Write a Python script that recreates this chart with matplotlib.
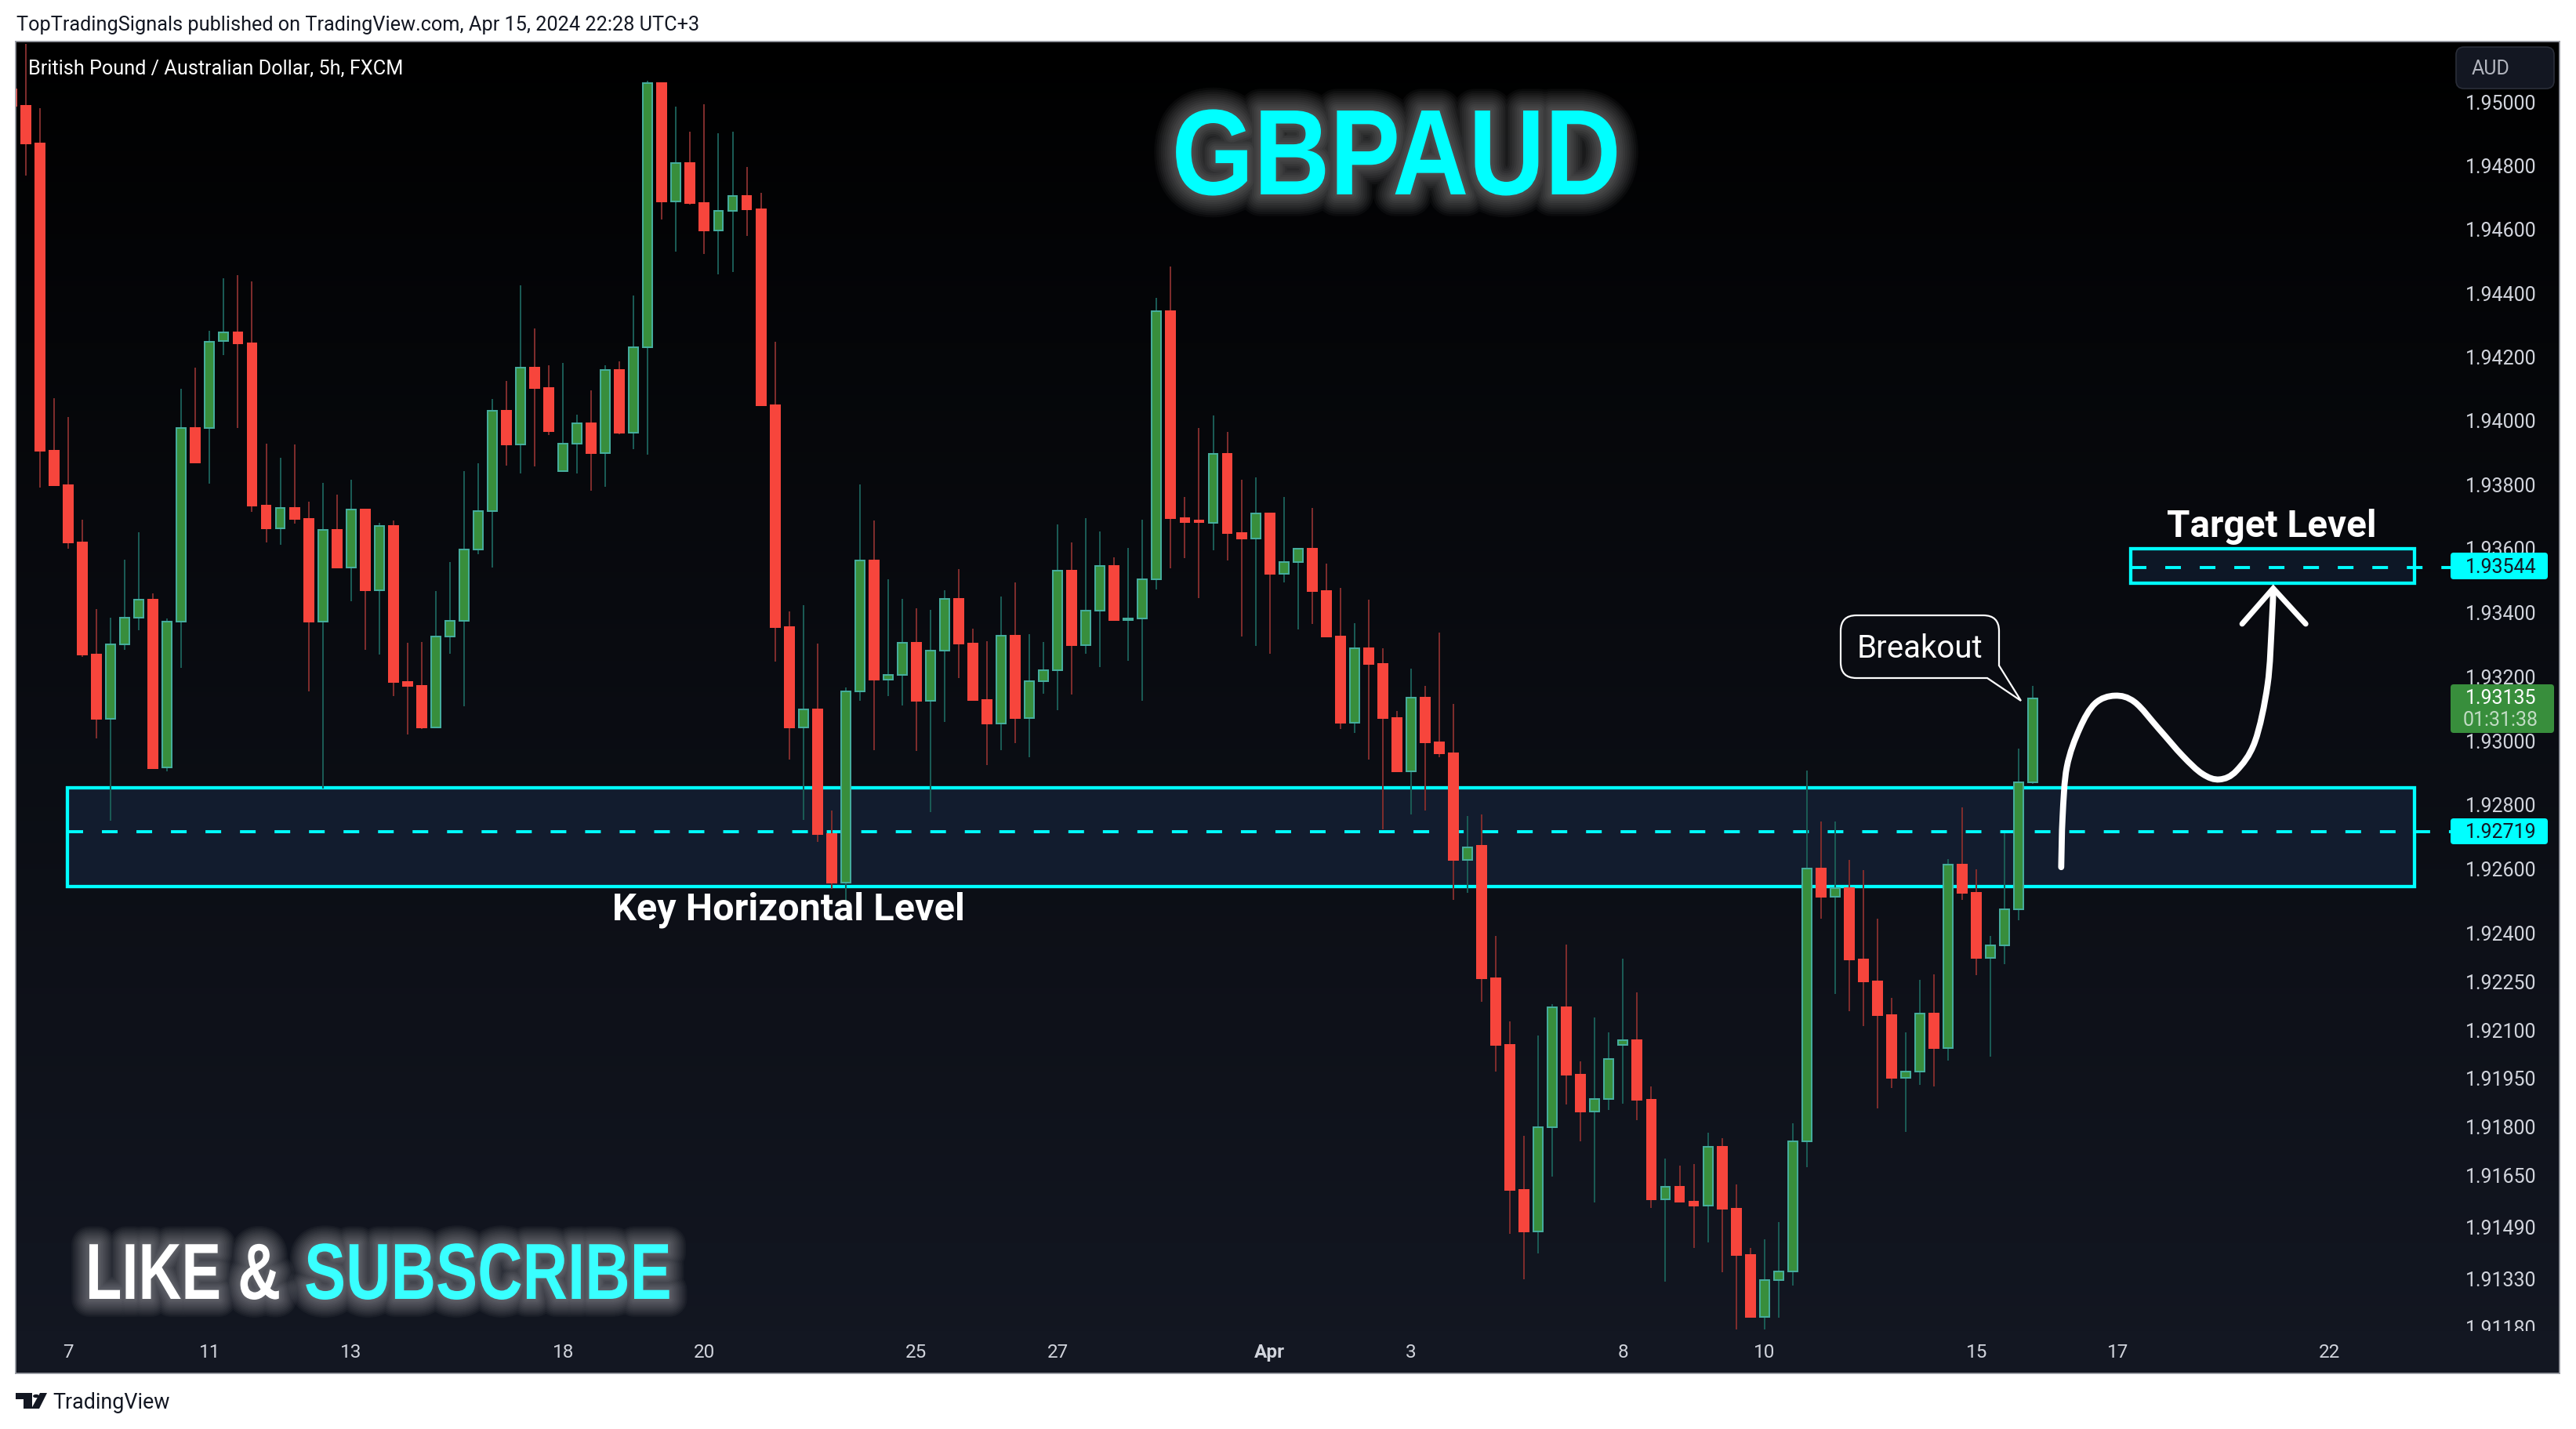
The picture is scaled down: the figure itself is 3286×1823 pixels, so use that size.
import numpy as np
import matplotlib
matplotlib.use("Agg")
import matplotlib.pyplot as plt
import matplotlib.patheffects as pe
from matplotlib.patches import Rectangle, PathPatch, Polygon, Circle, FancyBboxPatch
from matplotlib.path import Path
from matplotlib.transforms import Affine2D, IdentityTransform

# ---- data (prices in 1e-5 units, first bar index -1) ----
FIRST_BAR = -1
DIRECTION = ("RRRRRRRGGG" "RGGRGGRRRG" "RRGRGRGRRR" "GGGGGRGRRG" "GRGRGGRGRR" "GGRRRRGRRG" "GRGGRGGRRR"
             "GRGGGRGGRG" "GGRRRGRRGR" "GGRRRGRRRG" "RRRGRRRRGG" "RRGGGRRGRR" "GRRRGGGGRG" "RRRRGGRGRR" "GGGG")
BODY_TOP = [195043,194991,194873,193909,193801,193621,193272,193303,193387,193443,
193443,193373,193980,193980,194250,194280,194280,194245,193737,193730,
193730,193694,193660,193660,193724,193724,193674,193674,193186,193173,
193327,193377,193600,193719,194033,194033,194170,194170,194106,193930,
193994,193994,194162,194162,194233,195063,195063,194812,194812,194685,
194661,194709,194709,194666,194052,193358,193100,193100,192712,193157,
193564,193564,193209,193308,193308,193283,193445,193445,193305,193129,
193329,193329,193189,193222,193534,193534,193408,193547,193547,193384,
193507,194346,194346,193698,193691,193898,193898,193652,193713,193713,
193561,193603,193603,193470,193328,193292,193292,193243,193074,193136,
193136,192997,192963,192670,192675,192263,192058,191608,191803,192173,
192173,191964,191889,192013,192071,192071,191887,191618,191618,191571,
191742,191742,191550,191407,191329,191356,191758,192605,192605,192544,
192544,192322,192254,192150,191975,192154,192154,192618,192618,192530,
192365,192477,192874,193135]
BODY_BOTTOM = [194991,194873,193909,193801,193621,193272,193070,193070,193303,193387,
192917,192919,193373,193872,193980,194252,194245,193737,193666,193666,
193694,193373,193373,193542,193542,193473,193473,193186,193173,193044,
193044,193327,193377,193600,193719,193927,193927,194106,193971,193845,
193930,193900,193900,193966,193966,194233,194690,194690,194685,194599,
194599,194661,194666,194052,193358,193044,193044,192712,192562,192562,
193157,193192,193192,193209,193126,193126,193283,193305,193129,193057,
193057,193074,193074,193189,193222,193301,193301,193408,193379,193379,
193384,193507,193698,193686,193686,193682,193652,193633,193633,193524,
193524,193561,193470,193328,193059,193059,193243,193074,192907,192907,
192997,192963,192632,192632,192263,192058,191608,191480,191480,191803,
191964,191851,191851,191889,192058,191887,191579,191579,191571,191559,
191559,191550,191407,191215,191215,191329,191356,191758,192518,192518,
192322,192254,192150,191955,191955,191975,192047,192047,192530,192326,
192326,192365,192477,192874]
HIGH = [195060,195187,194983,194074,194013,193693,193413,193387,193567,193654,
193462,193384,194103,194169,194285,194450,194459,194439,193930,193887,
193927,193748,193807,193770,193817,193724,193683,193691,193307,193311,
193470,193561,193844,193869,194070,194126,194428,194291,194176,194183,
194021,194098,194176,194189,194396,195071,195065,194988,194910,194996,
194905,194910,194798,194718,194250,193405,193425,193305,192784,193168,
193804,193691,193506,193444,193417,193412,193473,193538,193353,193314,
193452,193496,193336,193311,193678,193621,193698,193655,193576,193604,
193692,194388,194487,193764,193980,194020,193967,193818,193825,193713,
193764,193603,193729,193555,193479,193370,193442,193291,193095,193227,
193174,193340,193117,192767,192774,192396,192131,191774,192085,192183,
192369,192005,192141,192097,192325,192221,191927,191704,191684,191687,
191784,191767,191624,191428,191454,191508,191813,192910,192752,192752,
192631,192599,192448,192204,192096,192258,192275,192635,192795,192603,
192394,192714,192978,193174]
LOW = [194980,194773,193793,193801,193602,193264,193010,192754,193285,193347,
192917,192908,193230,193872,193806,194208,193980,193716,193621,193614,
193680,193156,192853,193542,193438,193286,193272,193142,193022,193038,
193044,193275,193109,193586,193542,193862,193837,193859,193958,193845,
193837,193784,193796,193961,193913,193897,194635,194534,194680,194525,
194461,194470,194581,194052,193250,192944,192757,192688,192541,192493,
193126,192973,193143,193113,192971,192781,193062,193199,193129,192927,
192973,192996,192952,193148,193099,193146,193273,193232,193379,193251,
193126,193475,193541,193573,193448,193596,193564,193328,193298,193275,
193497,193350,193367,193328,193038,193026,192944,192726,192907,192774,
192784,192952,192507,192529,192190,191974,191471,191332,191412,191650,
191872,191759,191570,191855,191875,191824,191553,191324,191570,191429,
191445,191352,191177,191215,191177,191213,191312,191679,192448,192214,
192162,192116,191860,191924,191788,191933,191929,192009,192506,192273,
192021,192308,192443,192869]

PRICE_TICKS = [1.95, 1.948, 1.946, 1.944, 1.942, 1.94, 1.938, 1.936, 1.934, 1.932, 1.93,
               1.928, 1.926, 1.924, 1.9225, 1.921, 1.9195, 1.918, 1.9165, 1.9149, 1.9133, 1.9118]
TIME_TICKS = [3, 13, 23, 38, 48, 63, 73, 88, 98, 113, 123, 138, 148, 163]
TIME_LABELS = ["7", "11", "13", "18", "20", "25", "27", "Apr", "3", "8", "10", "15", "17", "22"]

KEY_ZONE = (1.92549, 1.92855)
KEY_LEVEL = 1.92719
KEY_ZONE_BARS = (2.95, 169.0)
TARGET_ZONE = (1.93493, 1.93601)
TARGET_LEVEL = 1.93544
TARGET_ZONE_BARS = (148.9, 169.0)
LEVEL_LINE_END = 171.6

ARROW_BARS = [144.0, 144.1, 144.4, 145.3, 146.4, 147.8, 149.2, 150.9, 152.6, 154.0, 155.2, 156.4, 157.7, 158.6, 158.9, 159.0]
ARROW_PRICES = [1.92609, 1.92767, 1.92921, 1.93040, 1.93119, 1.93143, 1.93123, 1.93040, 1.92955, 1.92899,
                1.92882, 1.92909, 1.92999, 1.93177, 1.93367, 1.93473]
ARROW_HEAD_BARS = [156.8, 159.0, 161.3]
ARROW_HEAD_PRICES = [1.93367, 1.93478, 1.93367]

# ---- layout / style ----
W, H = 3286, 1824
plt.rcParams["font.family"] = ["Roboto", "DejaVu Sans"]
plt.rcParams["lines.scale_dashes"] = False
CYAN = "#00ffff"
GRID_TEXT = "#d1d4dc"
UP_BODY, UP_EDGE, UP_WICK = "#388e3c", "#45ac9c", "#1a5a54"
DN_BODY, DN_EDGE, DN_WICK = "#f7453c", "#f7453c", "#7d2c2c"
HEAVY = ["Liberation Sans", "DejaVu Sans"]

def X(x): return x / W
def Y(y): return 1 - y / H

fig = plt.figure(figsize=(W / 100, H / 100), dpi=100, facecolor="white")
L, R, T, B = 20, 3265, 54, 1753
rect = [X(L), Y(B), (R - L) / W, (B - T) / H]

bg = fig.add_axes(rect, zorder=0)
grad = np.linspace(0, 1, 256)[:, None, None] ** 0.9 * np.array([[[0x13, 0x17, 0x22]]]) / 255
bg.imshow(grad, aspect="auto", extent=(0, 1, 0, 1), origin="upper")
bg.axis("off")

ax = fig.add_axes(rect, zorder=1)
ax.patch.set_alpha(0)
ax.set_yscale("log")
SPACING, X0 = 18.03, 33
ax.set_xlim((L - X0) / SPACING, (R - X0) / SPACING)
ax.set_ylim(1.91041, 1.95194)

n = len(DIRECTION)
assert all(len(a) == n for a in (BODY_TOP, BODY_BOTTOM, HIGH, LOW)), [n, len(BODY_TOP), len(BODY_BOTTOM), len(HIGH), len(LOW)]
idx = np.arange(n) + FIRST_BAR
top, bot = np.array(BODY_TOP) / 1e5, np.array(BODY_BOTTOM) / 1e5
hi, lo = np.array(HIGH) / 1e5, np.array(LOW) / 1e5
up = np.array([c == "G" for c in DIRECTION])

# zones (below the candles)
for (y0, y1), (b0, b1), fc in [(KEY_ZONE, KEY_ZONE_BARS, "#121c2e"), (TARGET_ZONE, TARGET_ZONE_BARS, "#0d1726")]:
    ax.add_patch(Rectangle((b0, y0), b1 - b0, y1 - y0, facecolor=fc, edgecolor=CYAN, lw=3.1, zorder=1.2))
ax.plot([KEY_ZONE_BARS[0], LEVEL_LINE_END], [KEY_LEVEL] * 2, color=CYAN, lw=2.8,
        linestyle=(0, (14.4, 17.3)), dash_capstyle="butt", zorder=1.3)
ax.plot([TARGET_ZONE_BARS[0], LEVEL_LINE_END], [TARGET_LEVEL] * 2, color=CYAN, lw=2.8,
        linestyle=(0, (14.4, 17.3)), dash_capstyle="butt", zorder=1.3)

# candles
ax.vlines(idx[up], lo[up], hi[up], color=UP_WICK, lw=1.45, zorder=2)
ax.vlines(idx[~up], lo[~up], hi[~up], color=DN_WICK, lw=1.45, zorder=2)
ax.bar(idx[up], (top - bot)[up], bottom=bot[up], width=0.66, color=UP_BODY, edgecolor=UP_EDGE, lw=1.45, zorder=2.2)
ax.bar(idx[~up], (top - bot)[~up], bottom=bot[~up], width=0.66, color=DN_BODY, edgecolor=DN_EDGE, lw=1.45, zorder=2.2)

# axes
ax.set_yticks(PRICE_TICKS, [f"{p:.5f}" for p in PRICE_TICKS])
ax.minorticks_off()
ax.yaxis.tick_right()
ax.tick_params(axis="y", length=0, pad=-86.5, labelsize=18, labelcolor=GRID_TEXT)
for tick in ax.yaxis.get_major_ticks():
    tick.label2.set_transform(tick.label2.get_transform() + Affine2D().translate(0, 2))
ax.set_xticks(TIME_TICKS, TIME_LABELS)
ax.tick_params(axis="x", length=0, pad=-28, labelsize=17.5, labelcolor=GRID_TEXT)
for lab in ax.get_xticklabels():
    if lab.get_text() == "Apr":
        lab.set_fontweight("bold")
ax.yaxis.set_zorder(2.6)
ax.xaxis.set_zorder(6)
for s in ax.spines.values():
    s.set_color("#9598a1")
    s.set_linewidth(1.2)
    s.set_zorder(7)

# time axis strip hides the cut tick at the bottom
ax.add_patch(Rectangle((0, 0), 1, (B - 1699) / (B - T), transform=ax.transAxes, facecolor="#131722", edgecolor="none", zorder=3))

# arrow
def smooth_path(xs, ys):
    disp = ax.transData.transform(np.column_stack([xs, ys]))
    verts, codes = [disp[0]], [Path.MOVETO]
    for i in range(len(disp) - 1):
        p0 = disp[max(i - 1, 0)]; p1 = disp[i]; p2 = disp[i + 1]; p3 = disp[min(i + 2, len(disp) - 1)]
        c1 = p1 + (p2 - p0) / 6; c2 = p2 - (p3 - p1) / 6
        verts += [c1, c2, p2]; codes += [Path.CURVE4] * 3
    return Path(np.array(verts), codes)

ax.add_patch(PathPatch(smooth_path(ARROW_BARS, ARROW_PRICES), transform=IdentityTransform(), facecolor="none", edgecolor="white",
                       lw=5.6, capstyle="round", joinstyle="round", zorder=4, clip_on=False))
ax.plot(ARROW_HEAD_BARS, ARROW_HEAD_PRICES, color="white", lw=5.0, solid_capstyle="round", solid_joinstyle="miter", zorder=4)

# text helpers
def ftext(x, y, s, **kw):
    kw.setdefault("zorder", 5)
    return ax.text(X(x), Y(y), s, transform=fig.transFigure, clip_on=False, **kw)

class NarrowGlow(pe.AbstractPathEffect):
    """Narrow a text horizontally about x_px, with a soft white halo behind it."""
    def __init__(self, sx, x_px, widths, alpha):
        super().__init__()
        self.sx, self.x_px, self.widths, self.alpha = sx, x_px, widths, alpha
    def draw_path(self, renderer, gc, tpath, affine, rgbFace=None):
        aff = affine + Affine2D().translate(-self.x_px, 0).scale(self.sx, 1).translate(self.x_px, 0)
        for w in self.widths:
            g = renderer.new_gc()
            g.copy_properties(gc)
            g.set_foreground("white")
            g.set_linewidth(w)
            g.set_alpha(self.alpha)
            g.set_joinstyle("round")
            renderer.draw_path(g, tpath, aff, None)
            g.restore()
        renderer.draw_path(gc, tpath, aff, rgbFace)

TITLE_GLOW = range(40, 0, -4)
SMALL_GLOW = range(33, 0, -3)
ftext(1781, 249, "GBPAUD", family=HEAVY, fontweight="bold", fontsize=112, color=CYAN, ha="center", va="baseline",
      path_effects=[NarrowGlow(0.865, 1781, TITLE_GLOW, 0.036)])
ftext(358, 1658, "LIKE &", family=HEAVY, fontweight="bold", fontsize=73, color="white", ha="right", va="baseline",
      path_effects=[NarrowGlow(0.75, 358, SMALL_GLOW, 0.036)])
ftext(388, 1658, "SUBSCRIBE", family=HEAVY, fontweight="bold", fontsize=73, color="#39ffff", ha="left", va="baseline",
      path_effects=[NarrowGlow(0.785, 388, SMALL_GLOW, 0.036)])

ftext(36, 87, "British Pound / Australian Dollar, 5h, FXCM", fontsize=18.2, color="white", ha="left", va="center")
ftext(21, 32, "TopTradingSignals published on TradingView.com, Apr 15, 2024 22:28 UTC+3", fontsize=18.2, color="#131722", ha="left", va="center")
ftext(67, 1790, "TradingView", fontsize=19.4, color="#131722", ha="left", va="center")
ftext(2898, 685, "Target Level", fontweight="bold", fontsize=34.3, color="white", ha="center", va="baseline")
ftext(1006, 1174, "Key Horizontal Level", fontweight="bold", fontsize=35, color="white", ha="center", va="baseline")

# callout
def px(pts):
    return np.array([[X(a), Y(b)] for a, b in pts])

r = 20
x0, x1, y0, y1 = 2348, 2550, 786, 866
verts = [(x0 + r, y0), (x1 - r, y0), (x1, y0), (x1, y0 + r), (x1, 850), (2578, 895), (2535, y1), (x0 + r, y1),
         (x0, y1), (x0, y1 - r), (x0, y0 + r), (x0, y0), (x0 + r, y0), (x0 + r, y0)]
codes = [Path.MOVETO, Path.LINETO, Path.CURVE3, Path.CURVE3, Path.LINETO, Path.LINETO, Path.LINETO, Path.LINETO,
         Path.CURVE3, Path.CURVE3, Path.LINETO, Path.CURVE3, Path.CURVE3, Path.CLOSEPOLY]
ax.add_patch(PathPatch(Path(px(verts), codes), transform=fig.transFigure, facecolor="#0a0c12", edgecolor="white",
                       lw=1.6, joinstyle="miter", zorder=4.5, clip_on=False))
ftext(2449, 828, "Breakout", fontsize=29, color="white", ha="center", va="center")

# price labels
PX = Affine2D().scale(1, -1).translate(0, H)
def box(x0, y0, x1, y1, fc, ec="none", rad=4, lw=0, z=4.5):
    ax.add_patch(FancyBboxPatch((x0 + rad, y0 + rad), x1 - x0 - 2 * rad, y1 - y0 - 2 * rad,
                                boxstyle=f"round,pad={rad}", transform=PX, facecolor=fc, edgecolor=ec, lw=lw, zorder=z, clip_on=False))
box(3126, 706, 3250, 740, CYAN)
box(3126, 1045, 3250, 1078, CYAN)
box(3126, 874, 3258, 936, "#388e3c")
box(3133, 61, 3258, 114, "#131722", ec="#2a2e39", rad=10, lw=1.2)
ftext(3145, 724, "1.93544", fontsize=18, color="#131722", ha="left", va="center")
ftext(3145, 1062, "1.92719", fontsize=18, color="#131722", ha="left", va="center")
ftext(3145, 891, "1.93135", fontsize=18, color="white", ha="left", va="center")
ftext(3142, 919, "01:31:38", fontsize=18, color="#c2dcc4", ha="left", va="center")
ftext(3153, 88, "AUD", fontsize=18, color="#b2b5be", ha="left", va="center")

# logo
logo = [[(20, 1778), (41, 1778), (41, 1798), (30, 1798), (30, 1786), (20, 1786)],
        [(51, 1778), (60, 1778), (50, 1798), (40, 1798)]]
for poly in logo:
    fig.add_artist(Polygon(px(poly), closed=True, transform=fig.transFigure, facecolor="#131722", edgecolor="none"))
fig.add_artist(Circle((X(46), Y(1782)), 0.0012, transform=fig.transFigure, facecolor="#131722", edgecolor="none"))

fig.savefig("out.png", dpi=100)
